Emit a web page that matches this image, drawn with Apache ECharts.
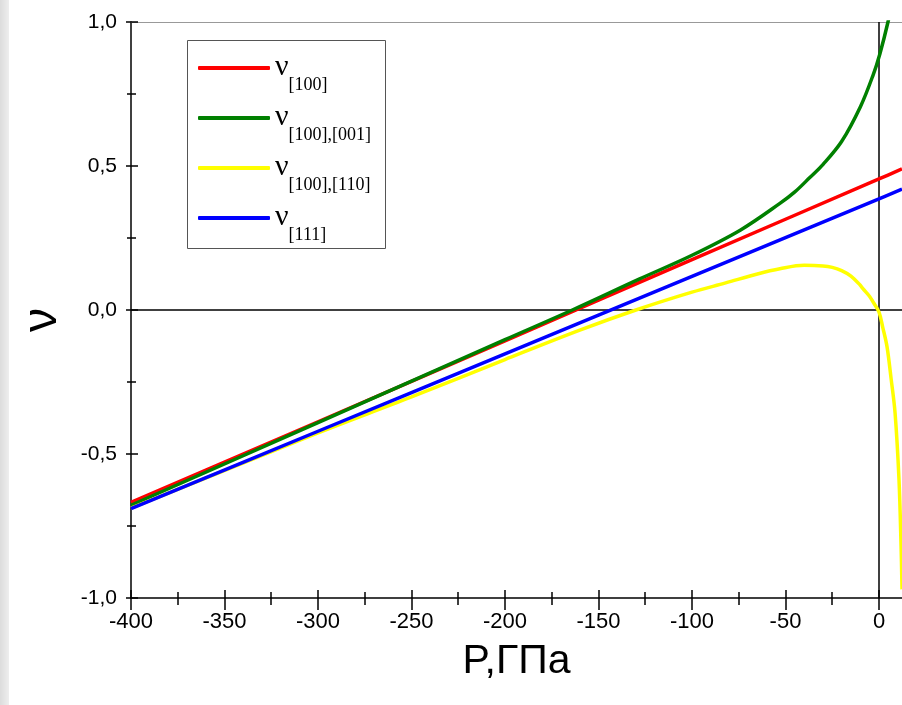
<!DOCTYPE html>
<html>
<head>
<meta charset="utf-8">
<script src="https://cdn.jsdelivr.net/npm/echarts@6/dist/echarts.min.js"></script>
<style>
html,body{margin:0;padding:0;background:#fff;}
#c{width:902px;height:705px;}
</style>
</head>
<body>
<div id="c"></div>
<script>
// ---- data ----
const seriesNames = ['ν[100]', 'ν[100],[001]', 'ν[100],[110]', 'ν[111]'];
const seriesColors = ['#ff0000', '#008000', '#ffff00', '#0000ff'];

const redX = [-400, -300, -200, -100, 0, 12.3];
const redY = [-0.668, -0.388, -0.107, 0.175, 0.455, 0.49];

const greenX = [-400, -300, -200, -164, -128, -100, -74, -53, -45, -37, -30, -20, -10, -3.2, 0.5, 4.8, 8];
const greenY = [-0.678, -0.391, -0.103, 0, 0.108, 0.19, 0.278, 0.37, 0.41, 0.46, 0.505, 0.585, 0.705, 0.815, 0.89, 1.0, 1.1];

const yellowX = [-400, -300, -250, -200, -160, -130, -100, -82, -65, -53, -40, -30, -25, -20, -15, -10, -8.6, -5, -3.2, 0, 2, 4.3, 6.5, 8.6, 10.7, 11.8, 12.3];
const yellowY = [-0.688, -0.427, -0.302, -0.172, -0.07, 0, 0.062, 0.094, 0.125, 0.143, 0.155, 0.153, 0.148, 0.137, 0.118, 0.086, 0.074, 0.047, 0.028, -0.007, -0.06, -0.128, -0.24, -0.358, -0.59, -0.82, -0.97];

const blueX = [-400, -300, -200, -100, 0, 12.3];
const blueY = [-0.69, -0.421, -0.152, 0.117, 0.386, 0.42];

const xMin = -400, xMax = 12.3, xMajor = 50, xMinor = 25;
const yMin = -1, yMax = 1, yMajor = 0.5, yMinor = 0.25;
const xTickLabels = [-400, -350, -300, -250, -200, -150, -100, -50, 0];
const xMinorTicks = [-375, -325, -275, -225, -175, -125, -75, -25];
const xTitle = 'P,ГПа';
const yTitle = 'ν';

// ---- build ----
const pairs = (xs, ys) => xs.map((x, i) => [x, ys[i]]);
const allData = [pairs(redX, redY), pairs(greenX, greenY), pairs(yellowX, yellowY), pairs(blueX, blueY)];

const chart = echarts.init(document.getElementById('c'));
const sansFont = '"Liberation Sans", Arial, sans-serif';
const serifFont = '"Liberation Serif", "Times New Roman", serif';

function xAx(interval, tick, extra) {
  return Object.assign({
    type: 'value', min: xMin, max: xMax, interval: interval, position: 'bottom',
    axisLine: { show: false, onZero: false },
    axisTick: tick,
    axisLabel: { show: false },
    splitLine: { show: false }
  }, extra || {});
}
function yAx(interval, tick, extra) {
  return Object.assign({
    type: 'value', min: yMin, max: yMax, interval: interval, position: 'left',
    axisLine: { show: false, onZero: false },
    axisTick: tick,
    axisLabel: { show: false },
    splitLine: { show: false }
  }, extra || {});
}
const tickStyle = { color: '#000', width: 1.5 };

const option = {
  animation: false,
  backgroundColor: '#ffffff',
  grid: { left: 131, right: 0, top: 22, bottom: 107, containLabel: false, outerBoundsMode: 'none' },
  graphic: [
    { type: 'rect', z: 0, shape: { x: 0, y: 0, width: 9, height: 705 },
      style: { fill: new echarts.graphic.LinearGradient(0, 0, 1, 0, [{ offset: 0, color: '#dcdcdc' }, { offset: 1, color: '#eeeeee' }]) } },
    { type: 'rect', z: 0, shape: { x: 187.5, y: 40.5, width: 198, height: 208 },
      style: { fill: '#ffffff', stroke: '#555555', lineWidth: 1 } }
  ],
  xAxis: [
    xAx(xMajor, { show: true, inside: false, length: 12, lineStyle: tickStyle, customValues: xTickLabels }, {
      axisLine: { show: true, onZero: false, lineStyle: { color: '#000', width: 1.5 } },
      axisLabel: { show: true, color: '#000', fontSize: 22, fontFamily: sansFont, margin: 13,
        customValues: xTickLabels, formatter: v => String(v) },
      name: xTitle, nameLocation: 'middle', nameGap: 43,
      nameTextStyle: { fontSize: 41, color: '#000', fontFamily: sansFont }
    }),
    xAx(xMajor, { show: true, inside: true, length: 8, lineStyle: tickStyle, customValues: xTickLabels }),
    xAx(xMinor, { show: true, inside: false, length: 7, lineStyle: tickStyle, customValues: xMinorTicks }),
    xAx(xMinor, { show: true, inside: true, length: 6, lineStyle: tickStyle, customValues: xMinorTicks }),
    xAx(xMajor, { show: false }, { position: 'top',
      axisLine: { show: true, onZero: false, lineStyle: { color: '#999', width: 1.2 } } })
  ],
  yAxis: [
    yAx(yMajor, { show: true, inside: false, length: 5, lineStyle: tickStyle }, {
      axisLine: { show: true, onZero: false, lineStyle: { color: '#000', width: 1.5 } },
      axisLabel: { show: true, color: '#000', fontSize: 21, fontFamily: sansFont, margin: 14,
        formatter: v => v.toFixed(1).replace('.', ',') },
      name: yTitle, nameLocation: 'middle', nameGap: 64, nameRotate: 90,
      nameTextStyle: { fontSize: 48, color: '#000', fontFamily: sansFont, padding: [0, 20, 0, 0] }
    }),
    yAx(yMajor, { show: true, inside: true, length: 7, lineStyle: tickStyle }),
    yAx(yMinor, { show: true, inside: false, length: 4, lineStyle: tickStyle }),
    yAx(yMinor, { show: true, inside: true, length: 5, lineStyle: tickStyle })
  ],
  legend: {
    data: seriesNames,
    orient: 'vertical', left: 198, top: 42, padding: 0, itemGap: -2,
    itemWidth: 72, itemHeight: 4, icon: 'roundRect',
    formatter: name => '{n|ν}{s|' + name.slice(1) + '}',
    textStyle: {
      color: '#000',
      rich: {
        n: { fontSize: 30, fontFamily: serifFont, lineHeight: 30, padding: [0, 0, 2, 0], color: '#000' },
        s: { fontSize: 18, fontFamily: serifFont, lineHeight: 18, padding: [34, 0, 0, 0], color: '#000' }
      }
    }
  },
  series: [
    {
      name: 'zero-lines', type: 'line', data: [], z: 1,
      markLine: {
        silent: true, z: 1, symbol: ['none', 'none'], label: { show: false },
        lineStyle: { color: '#000', width: 1.5, type: 'solid' },
        emphasis: { disabled: true },
        data: [{ yAxis: 0 }, { xAxis: 0 }]
      }
    }
  ].concat(seriesNames.map((nm, i) => ({
    name: nm, type: 'line', data: allData[i], z: 2 + i,
    smooth: 0.35, showSymbol: false, symbol: 'none', clip: true,
    color: seriesColors[i],
    itemStyle: { color: seriesColors[i] },
    lineStyle: { color: seriesColors[i], width: 3.5 }
  })))
};
chart.setOption(option);
</script>
</body>
</html>
